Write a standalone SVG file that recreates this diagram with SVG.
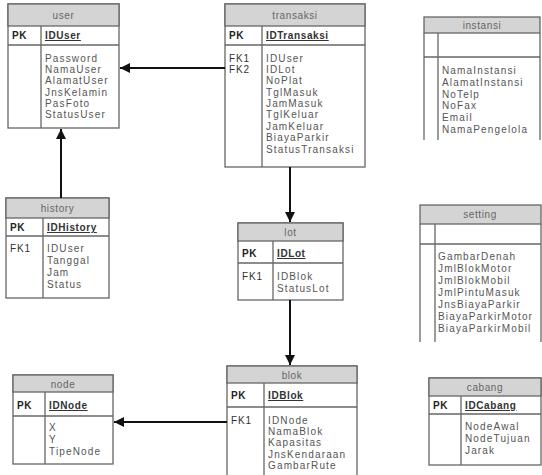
<svg xmlns="http://www.w3.org/2000/svg" width="542" height="475" viewBox="0 0 542 475">
<defs>
<marker id="ah" viewBox="0 0 10 10" refX="10" refY="5" markerWidth="10" markerHeight="10" markerUnits="userSpaceOnUse" orient="auto">
<path d="M0,0 L10,5 L0,10 z" fill="#111"/>
</marker>
<style>
.box{fill:#fff;stroke:#666;stroke-width:1.3}
.hd{fill:#d4d4d4;stroke:#666;stroke-width:1.3}
.ln{stroke:#666;stroke-width:1.3;fill:none}
.t{font-family:"Liberation Sans",Arial,sans-serif;font-size:10px;fill:#555;letter-spacing:1.15px}
.ti{font-family:"Liberation Sans",Arial,sans-serif;font-size:10px;fill:#666;text-anchor:middle;letter-spacing:0.6px}
.k{font-family:"Liberation Sans",Arial,sans-serif;font-size:10px;fill:#222;font-weight:bold;letter-spacing:0.6px}
.f{font-family:"Liberation Sans",Arial,sans-serif;font-size:10px;fill:#333;letter-spacing:0.8px}
.pk{font-family:"Liberation Sans",Arial,sans-serif;font-size:10px;fill:#333;font-weight:bold;text-decoration:underline;letter-spacing:0.6px}
.c{stroke:#111;stroke-width:2;fill:none;marker-end:url(#ah)}
</style>
</defs>
<rect width="542" height="475" fill="#fff"/>

<g id="user">
<rect class="box" x="8" y="4" width="111" height="124"/>
<rect class="hd" x="8" y="4" width="111" height="22"/>
<line class="ln" x1="8" y1="45" x2="119" y2="45"/>
<line class="ln" x1="41" y1="26" x2="41" y2="128"/>
<text class="ti" x="63.5" y="19">user</text>
<text class="k" x="12" y="39">PK</text>
<text class="pk" x="45" y="39">IDUser</text>
<text class="t" x="45" y="62">Password</text>
<text class="t" x="45" y="73">NamaUser</text>
<text class="t" x="45" y="84">AlamatUser</text>
<text class="t" x="45" y="96">JnsKelamin</text>
<text class="t" x="45" y="107">PasFoto</text>
<text class="t" x="45" y="118">StatusUser</text>
</g>

<g id="transaksi">
<rect class="box" x="225" y="4" width="140" height="163"/>
<rect class="hd" x="225" y="4" width="140" height="22"/>
<line class="ln" x1="225" y1="45" x2="365" y2="45"/>
<line class="ln" x1="262" y1="26" x2="262" y2="167"/>
<text class="ti" x="295" y="19">transaksi</text>
<text class="k" x="229" y="39">PK</text>
<text class="pk" x="266" y="39">IDTransaksi</text>
<text class="f" x="229" y="62">FK1</text>
<text class="f" x="229" y="73">FK2</text>
<text class="t" x="266" y="62">IDUser</text>
<text class="t" x="266" y="73">IDLot</text>
<text class="t" x="266" y="84">NoPlat</text>
<text class="t" x="266" y="96">TglMasuk</text>
<text class="t" x="266" y="107">JamMasuk</text>
<text class="t" x="266" y="118">TglKeluar</text>
<text class="t" x="266" y="130">JamKeluar</text>
<text class="t" x="266" y="141">BiayaParkir</text>
<text class="t" x="266" y="153">StatusTransaksi</text>
</g>

<g id="instansi">
<rect class="hd" x="424" y="17" width="116" height="16"/>
<line class="ln" x1="424" y1="33" x2="424" y2="140"/>
<line class="ln" x1="540" y1="33" x2="540" y2="140"/>
<line class="ln" x1="424" y1="57" x2="540" y2="57"/>
<line class="ln" x1="438" y1="33" x2="438" y2="140"/>
<text class="ti" x="482" y="29">instansi</text>
<text class="t" x="442" y="74">NamaInstansi</text>
<text class="t" x="442" y="86">AlamatInstansi</text>
<text class="t" x="442" y="98">NoTelp</text>
<text class="t" x="442" y="109">NoFax</text>
<text class="t" x="442" y="121">Email</text>
<text class="t" x="442" y="133">NamaPengelola</text>
</g>

<g id="history">
<rect class="box" x="6" y="198" width="103" height="100"/>
<rect class="hd" x="6" y="198" width="103" height="20"/>
<line class="ln" x1="6" y1="236" x2="109" y2="236"/>
<line class="ln" x1="43" y1="218" x2="43" y2="298"/>
<text class="ti" x="57.5" y="212">history</text>
<text class="k" x="10" y="231">PK</text>
<text class="pk" x="47" y="231">IDHistory</text>
<text class="f" x="10" y="252">FK1</text>
<text class="t" x="47" y="252">IDUser</text>
<text class="t" x="47" y="264">Tanggal</text>
<text class="t" x="47" y="276">Jam</text>
<text class="t" x="47" y="288">Status</text>
</g>

<g id="lot">
<rect class="box" x="238" y="223" width="105" height="77"/>
<rect class="hd" x="238" y="223" width="105" height="18"/>
<line class="ln" x1="238" y1="263" x2="343" y2="263"/>
<line class="ln" x1="273" y1="241" x2="273" y2="300"/>
<text class="ti" x="290.5" y="236">lot</text>
<text class="k" x="242" y="257">PK</text>
<text class="pk" x="277" y="257">IDLot</text>
<text class="f" x="242" y="280">FK1</text>
<text class="t" x="277" y="280">IDBlok</text>
<text class="t" x="277" y="292">StatusLot</text>
</g>

<g id="setting">
<rect class="hd" x="420" y="205" width="121" height="19"/>
<line class="ln" x1="420" y1="224" x2="420" y2="342"/>
<line class="ln" x1="541" y1="224" x2="541" y2="342"/>
<line class="ln" x1="420" y1="244" x2="541" y2="244"/>
<line class="ln" x1="435" y1="224" x2="435" y2="342"/>
<text class="ti" x="480" y="218">setting</text>
<text class="t" x="438" y="260">GambarDenah</text>
<text class="t" x="438" y="272">JmlBlokMotor</text>
<text class="t" x="438" y="284">JmlBlokMobil</text>
<text class="t" x="438" y="296">JmlPintuMasuk</text>
<text class="t" x="438" y="308">JnsBiayaParkir</text>
<text class="t" x="438" y="320">BiayaParkirMotor</text>
<text class="t" x="438" y="332">BiayaParkirMobil</text>
</g>

<g id="node">
<rect class="box" x="13" y="375" width="100" height="89"/>
<rect class="hd" x="13" y="375" width="100" height="17"/>
<line class="ln" x1="13" y1="416" x2="113" y2="416"/>
<line class="ln" x1="45" y1="392" x2="45" y2="464"/>
<text class="ti" x="63" y="388">node</text>
<text class="k" x="17" y="409">PK</text>
<text class="pk" x="49" y="409">IDNode</text>
<text class="t" x="49" y="431">X</text>
<text class="t" x="49" y="443">Y</text>
<text class="t" x="49" y="455">TipeNode</text>
</g>

<g id="blok">
<rect class="box" x="227" y="366" width="130" height="115"/>
<rect class="hd" x="227" y="366" width="130" height="17"/>
<line class="ln" x1="227" y1="407" x2="357" y2="407"/>
<line class="ln" x1="264" y1="383" x2="264" y2="481"/>
<text class="ti" x="292" y="379">blok</text>
<text class="k" x="231" y="399">PK</text>
<text class="pk" x="268" y="399">IDBlok</text>
<text class="f" x="231" y="424">FK1</text>
<text class="t" x="268" y="424">IDNode</text>
<text class="t" x="268" y="435">NamaBlok</text>
<text class="t" x="268" y="446">Kapasitas</text>
<text class="t" x="268" y="458">JnsKendaraan</text>
<text class="t" x="268" y="469">GambarRute</text>
</g>

<g id="cabang">
<rect class="box" x="429" y="378" width="112" height="87"/>
<rect class="hd" x="429" y="378" width="112" height="18"/>
<line class="ln" x1="429" y1="414" x2="541" y2="414"/>
<line class="ln" x1="461" y1="396" x2="461" y2="465"/>
<text class="ti" x="485" y="391">cabang</text>
<text class="k" x="433" y="409">PK</text>
<text class="pk" x="465" y="409">IDCabang</text>
<text class="t" x="465" y="430">NodeAwal</text>
<text class="t" x="465" y="442">NodeTujuan</text>
<text class="t" x="465" y="454">Jarak</text>
</g>

<g id="connectors">
<line class="c" x1="225" y1="68" x2="120" y2="68"/>
<line class="c" x1="61" y1="198" x2="61" y2="129"/>
<line class="c" x1="290" y1="167" x2="290" y2="222"/>
<line class="c" x1="290" y1="300" x2="290" y2="365"/>
<line class="c" x1="227" y1="422" x2="114" y2="422"/>
</g>
</svg>
